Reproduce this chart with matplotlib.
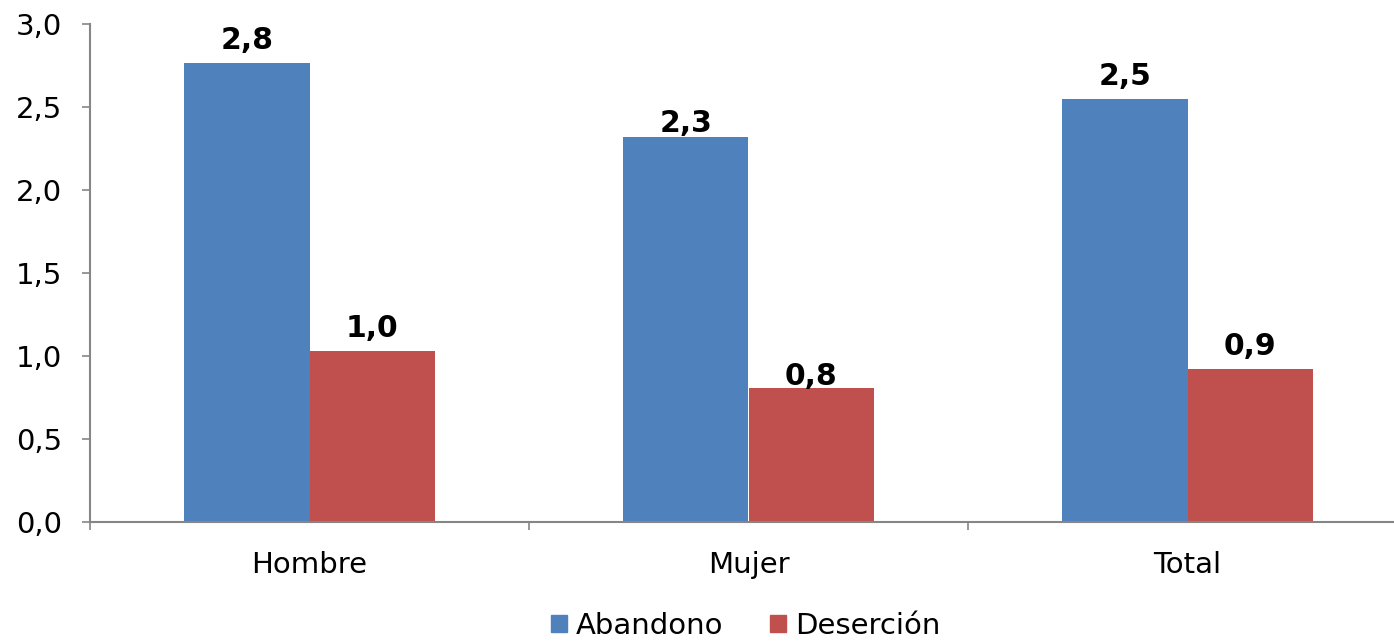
import matplotlib
matplotlib.use("Agg")
import matplotlib.pyplot as plt
import numpy as np
from matplotlib.patches import Patch

categories = ["Hombre", "Mujer", "Total"]
abandono = [2.765, 2.32, 2.548]
desercion = [1.03, 0.807, 0.92]
abandono_labels = ["2,8", "2,3", "2,5"]
desercion_labels = ["1,0", "0,8", "0,9"]
series_names = ["Abandono", "Deserción"]
yticks = [0.0, 0.5, 1.0, 1.5, 2.0, 2.5, 3.0]
ytick_labels = ["0,0", "0,5", "1,0", "1,5", "2,0", "2,5", "3,0"]

# label vertical offsets (points) above bar tops
ab_off = [6, -1, 6]
de_off = [6, -2, 6]

blue = "#4F81BD"
red = "#C0504D"
gray = "#868686"

plt.rcParams['font.family'] = ['DejaVu Sans']

fig = plt.figure(figsize=(13.94, 6.41), dpi=100)
ax = fig.add_axes([90/1394, (641-522)/641, (1407-90)/1394, (522-24)/641])

x = np.arange(len(categories))
w = 0.286
ax.bar(x - w/2, abandono, w, color=blue)
ax.bar(x + w/2, desercion, w, color=red)

for i in range(len(categories)):
    ax.annotate(abandono_labels[i], (x[i] - w/2, abandono[i]), xytext=(0, ab_off[i]),
                textcoords="offset points", ha="center", va="bottom",
                fontsize=21.5, fontweight="bold")
    ax.annotate(desercion_labels[i], (x[i] + w/2, desercion[i]), xytext=(0, de_off[i]),
                textcoords="offset points", ha="center", va="bottom",
                fontsize=21.5, fontweight="bold")

ax.set_xlim(-0.5, len(categories) - 0.5)
ax.set_ylim(0, 3.0)
ax.set_yticks(yticks)
ax.set_yticklabels(ytick_labels)

ax.set_xticks(np.arange(len(categories) + 1) - 0.5)
ax.set_xticklabels([])
ax.set_xticks(x, minor=True)
ax.set_xticklabels(categories, minor=True)

ax.tick_params(axis="y", direction="out", length=6, width=1.2, color=gray,
               labelsize=21, pad=14)
ax.tick_params(axis="x", which="major", direction="out", length=6, width=1.2, color=gray)
ax.tick_params(axis="x", which="minor", length=0, labelsize=21, pad=21)

for s in ["top", "right"]:
    ax.spines[s].set_visible(False)
for s in ["left", "bottom"]:
    ax.spines[s].set_color(gray)
    ax.spines[s].set_linewidth(1.5)

handles = [Patch(color=blue), Patch(color=red)]
fig.legend(handles, series_names, loc="lower center", bbox_to_anchor=(746/1394, 1/641),
           ncol=2, frameon=False, fontsize=21, handlelength=0.55, handleheight=0.55,
           handletextpad=0.3, columnspacing=1.6, borderpad=0, borderaxespad=0)

fig.savefig("out.png", dpi=100)
